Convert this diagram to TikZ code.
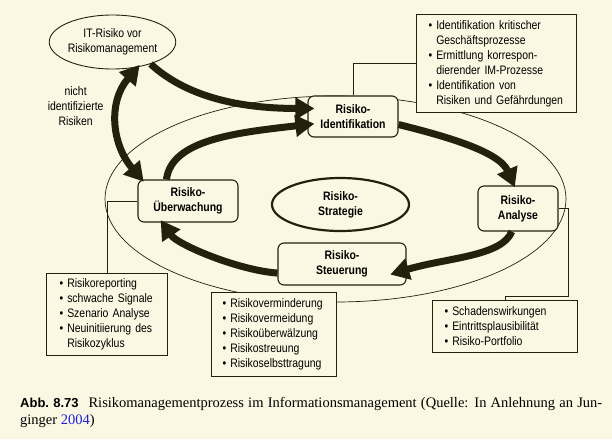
\documentclass[tikz,border=0pt]{standalone}
\usepackage{fontspec}
\setmainfont{Liberation Serif}
\newfontfamily\diafont[FakeStretch=0.85]{Liberation Sans}
\newfontfamily\capfont{Liberation Sans}
\usetikzlibrary{positioning,shapes.geometric,arrows.meta}
\definecolor{paper}{RGB}{250,248,226}
\definecolor{ink}{RGB}{36,33,10}
\definecolor{citeblue}{RGB}{30,30,225}
\newcommand{\bul}{\textbullet\ }
\newcommand{\cnt}{\phantom{\textbullet}\ }

\begin{document}
\begin{tikzpicture}[x=1pt, y=-1pt, font=\diafont\fontsize{12.3}{15}\selectfont, text=black]
        \tikzstyle{phase} = [rectangle, draw=ink, line width=1.1pt, rounded corners=6pt, fill=paper, align=center, inner sep=0pt, font=\diafont\bfseries\fontsize{12.3}{15}\selectfont]
        \tikzstyle{oval} = [ellipse, draw=ink, line width=0.9pt, fill=paper, align=center, inner sep=0pt]
        \tikzstyle{info} = [rectangle, draw=ink, line width=1pt, fill=paper, align=left, anchor=north west, inner ysep=0pt, inner xsep=12pt]
        \tikzstyle{flow} = [draw=ink, line width=7pt, -{Triangle[length=19pt, width=21pt]}]
        \tikzstyle{both} = [{Triangle[length=19pt, width=21pt]}-{Triangle[length=19pt, width=21pt]}]
        \tikzstyle{link} = [draw=ink, line width=0.8pt]
        \useasboundingbox (0,0) rectangle (612,439);
        \fill[paper] (0,0) rectangle (612,439);
        \node [ellipse, draw=ink, line width=0.7pt, minimum width=461pt, minimum height=206pt, inner sep=0pt] (orbit) at (335.5,199) {};
        \node [oval, minimum width=125pt, minimum height=54pt] (itrisk) at (112.5,42) {IT-Risiko vor\\Risikomanagement};
        \node [oval, line width=2.2pt, minimum width=137pt, minimum height=53pt, font=\diafont\bfseries\fontsize{12.3}{15}\selectfont] (strat) at (340.5,204.5) {Risiko-\\Strategie};
        \node [phase, minimum width=90pt, minimum height=41pt] (ident) at (353,116.5) {Risiko-\\Identifikation};
        \node [phase, minimum width=80pt, minimum height=45pt] (analyse) at (518,208.5) {Risiko-\\Analyse};
        \node [phase, minimum width=128pt, minimum height=42pt] (steuer) at (342,264) {Risiko-\\Steuerung};
        \node [phase, minimum width=100pt, minimum height=42pt] (ueber) at (188,201) {Risiko-\\Überwachung};
        \node [info, text width=136pt, minimum height=98pt] (infoIdent) at (416,14) {\bul Identifikation kritischer\\\cnt Geschäftsprozesse\\\bul Ermittlung korrespon-\\\cnt dierender IM-Prozesse\\\bul Identifikation von\\\cnt Risiken und Gefährdungen};
        \node [info, text width=121pt, minimum height=52pt] (infoAnalyse) at (432,300) {\bul Schadenswirkungen\\\bul Eintrittsplausibilität\\\bul Risiko-Portfolio};
        \node [info, text width=103pt, minimum height=84pt, inner xsep=11pt] (infoSteuer) at (211,292) {\bul Risikoverminderung\\\bul Risikovermeidung\\\bul Risikoüberwälzung\\\bul Risikostreuung\\\bul Risikoselbsttragung};
        \node [info, text width=95pt, minimum height=82pt, inner xsep=13pt] (infoUeber) at (46,273) {\bul Risikoreporting\\\bul schwache Signale\\\bul Szenario Analyse\\\bul Neuinitiierung des\\\cnt Risikozyklus};
        \coordinate (bendA) at (568,296);
        \path [link] (ident) |- (infoIdent);
        \path [link] (analyse.east) -| (bendA) -| (infoAnalyse);
        \path [link] (ueber) -| (infoUeber);
        \path [flow, shorten >=-7pt] (itrisk.-30) .. controls +(35,32) and +(-70,0) .. (ident.170);
        \path [flow, shorten >=-7pt] (ueber.135) .. controls +(5,-40) and +(-70,8) .. (ident.190);
        \path [flow, both, shorten <=-3pt, shorten >=-3pt] (itrisk.-45) .. controls +(-30,35) and +(-30,-35) .. node[pos=.35, left=8pt, align=center] {nicht\\identifizierte\\Risiken} (ueber.155);
        \path [flow, shorten >=-2pt] (ident.-10) .. controls +(40,10) and +(-15,-35) .. (analyse.100);
        \path [flow, shorten >=-17pt] (analyse.-105) .. controls +(-10,25) and +(40,-12) .. (steuer.-5);
        \path [flow, shorten >=-3pt] (steuer.188) .. controls +(-40,-3) and +(15,22) .. (ueber.-140);
        \node [anchor=base west, text width=582pt, align=justify, inner sep=0pt, font=\rmfamily\fontsize{14.5}{17.5}\selectfont] (caption) at (20,407) {{\capfont\bfseries\fontsize{13}{17.5}\selectfont Abb.~8.73}\hspace{10pt}Risikomanagementprozess im Informationsmanagement (Quelle: In Anlehnung an Jun-\linebreak ginger \textcolor{citeblue}{2004})};
\end{tikzpicture}
\end{document}
